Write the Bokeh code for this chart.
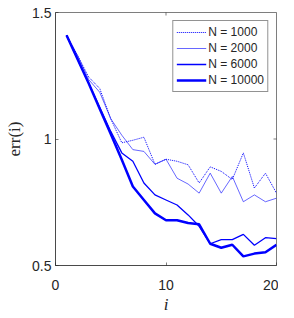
from bokeh.plotting import figure
from bokeh.models import Range1d, FixedTicker, Legend, LegendItem
from bokeh.embed import file_html
from bokeh.resources import INLINE

iters = list(range(1, 21))
n1000 = [1.41, 1.33, 1.245, 1.20, 1.08, 0.985, 0.995, 1.007, 0.90, 0.92,
         0.912, 0.898, 0.826, 0.89, 0.872, 0.84, 0.945, 0.806, 0.865, 0.786]
n2000 = [1.41, 1.33, 1.235, 1.185, 1.08, 1.015, 0.958, 0.951, 0.90, 0.92,
         0.845, 0.822, 0.786, 0.865, 0.786, 0.852, 0.752, 0.779, 0.752, 0.766]
n6000 = [1.41, 1.315, 1.22, 1.125, 1.03, 0.945, 0.912, 0.826, 0.779, 0.759,
         0.739, 0.70, 0.655, 0.586, 0.602, 0.602, 0.623, 0.580, 0.610, 0.606]
n10000 = [1.41, 1.315, 1.22, 1.12, 1.02, 0.918, 0.812, 0.759, 0.706, 0.679,
          0.679, 0.668, 0.663, 0.586, 0.570, 0.582, 0.536, 0.547, 0.552, 0.582]
labels = ["N = 1000", "N = 2000", "N = 6000", "N = 10000"]
x_ticks = [0, 10, 20]
y_ticks = [0.5, 1, 1.5]

AX = "#262626"
FONT = "Liberation Sans"

p = figure(frame_width=221, frame_height=253, output_backend="svg",
           toolbar_location=None,
           x_range=Range1d(0, 20), y_range=Range1d(0.5, 1.5),
           min_border_left=55, min_border_right=2, min_border_top=12,
           min_border_bottom=40)
p.title.visible = False
p.grid.visible = False
p.outline_line_color = AX
p.outline_line_width = 0.6

r1 = p.line(iters, n1000, line_color="#0000ff", line_width=1.0, line_dash="1 1")
r2 = p.line(iters, n2000, line_color="#0000ff", line_width=0.6)
r3 = p.line(iters, n6000, line_color="#0000ff", line_width=1.3)
r4 = p.line(iters, n10000, line_color="#0000ff", line_width=2.5)

xa = p.xaxis[0]
xa.ticker = FixedTicker(ticks=x_ticks)
ya = p.yaxis[0]
ya.ticker = FixedTicker(ticks=y_ticks)
for ax in (xa, ya):
    ax.axis_line_color = AX
    ax.axis_line_width = 0.6
    ax.major_tick_line_color = AX
    ax.major_tick_line_width = 0.6
    ax.major_tick_in = 3
    ax.major_tick_out = 0
    ax.minor_tick_line_color = None
    ax.major_label_text_font = FONT
    ax.major_label_text_font_size = "14px"
    ax.major_label_text_color = AX
xa.major_label_standoff = 14
ya.major_label_standoff = 4
xa.major_label_overrides = {0: "0", 10: "10", 20: "20"}
ya.major_label_overrides = {0.5: "0.5", 1: "1", 1.5: "1.5"}

xa.axis_label = "i"
xa.axis_label_text_font = "Liberation Serif"
xa.axis_label_text_font_style = "italic"
xa.axis_label_text_font_size = "17px"
xa.axis_label_text_color = AX
xa.axis_label_standoff = 2

ya.axis_label = "err(i)"
ya.axis_label_text_font = "Liberation Serif"
ya.axis_label_text_font_style = "normal"
ya.axis_label_text_font_size = "17px"
ya.axis_label_text_color = AX
ya.axis_label_standoff = 5

# inward ticks on top and right frame edges
p.scatter(x=[10], y=[1.5], marker="dash", angle=1.5708, size=6,
          line_color=AX, line_width=0.6)
p.scatter(x=[20], y=[1.0], marker="dash", size=6,
          line_color=AX, line_width=0.6)

legend = Legend(items=[LegendItem(label=labels[0], renderers=[r1]),
                       LegendItem(label=labels[1], renderers=[r2]),
                       LegendItem(label=labels[2], renderers=[r3]),
                       LegendItem(label=labels[3], renderers=[r4])],
                location="top_right", margin=8, padding=3, spacing=0,
                glyph_width=30, glyph_height=16, label_height=16,
                label_standoff=2,
                label_text_font=FONT, label_text_font_size="12px",
                label_text_color=AX,
                border_line_color=AX, border_line_width=0.6,
                background_fill_alpha=1.0)
p.add_layout(legend)

open("out.html", "w").write(file_html(p, INLINE))
